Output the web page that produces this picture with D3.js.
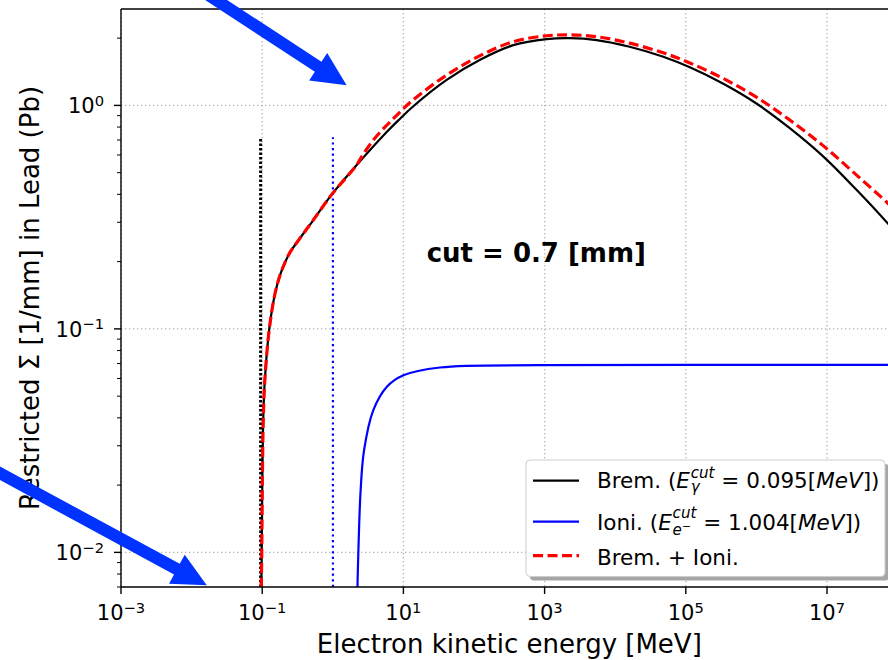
<!DOCTYPE html>
<html><head><meta charset="utf-8">
<script src="https://cdn.jsdelivr.net/npm/d3@7"></script>
<style>
body{margin:0;background:#fff}
svg{display:block}
text{font-family:"DejaVu Sans",sans-serif;fill:#000}
</style>
</head><body>
<svg id="chart" width="888" height="660"></svg>
<script>
// ---------- data ----------
const bremE = [0.0965, 0.0985, 0.1005, 0.104, 0.109, 0.126, 0.152, 0.18, 0.21, 0.25, 0.308, 0.53, 1.0, 2.18, 5.8, 8.9, 13.2, 41, 122, 361, 1070, 2290, 5470, 1.6e4, 4.8e4, 1.14e5, 3.4e5, 1.0e6, 3.0e6, 8.9e6, 2.6e7, 7.3e7, 1e8];
const bremV = [0.006, 0.01, 0.021, 0.042, 0.059, 0.1, 0.144, 0.175, 0.198, 0.221, 0.243, 0.307, 0.405, 0.541, 0.76, 0.87, 0.979, 1.30, 1.60, 1.86, 1.98, 2.0, 1.96, 1.83, 1.65, 1.48, 1.25, 1.02, 0.789, 0.59, 0.42, 0.296, 0.264];

const ioniE = [2.21, 2.30, 2.48, 2.77, 3.75, 5.8, 10, 33, 855, 1e5, 1e8];
const ioniV = [0.006, 0.01, 0.019, 0.0286, 0.0433, 0.055, 0.062, 0.0672, 0.0688, 0.069, 0.069];

const totE = [0.0965, 0.0985, 0.1005, 0.104, 0.109, 0.126, 0.152, 0.18, 0.21, 0.25, 0.308, 0.53, 1.0, 2.18, 2.48, 3.75, 5.8, 8.9, 13.2, 41, 122, 361, 1070, 2290, 5470, 1.6e4, 4.8e4, 1.14e5, 3.4e5, 1.0e6, 3.0e6, 8.9e6, 2.6e7, 7.3e7, 1e8];
const totV = [0.006, 0.01, 0.021, 0.042, 0.059, 0.1, 0.144, 0.175, 0.198, 0.221, 0.243, 0.307, 0.405, 0.541, 0.58, 0.70, 0.815, 0.932, 1.048, 1.367, 1.669, 1.929, 2.049, 2.069, 2.029, 1.899, 1.719, 1.549, 1.319, 1.089, 0.858, 0.659, 0.489, 0.365, 0.333];

const cutEnergies = [0.095, 1.004];
const cutColors = ["#000000", "#0000ff"];
const cutLineTop = 0.72;

const xDomain = [1e-3, 1e8];
const yDomain = [0.007, 2.7];
const xTicks = [1e-3, 1e-1, 1e1, 1e3, 1e5, 1e7];
const xTickExp = ["\u22123", "\u22121", "1", "3", "5", "7"];
const yTicks = [1e-2, 1e-1, 1e0];
const yTickExp = ["\u22122", "\u22121", "0"];
const yMinorTicks = [0.007,0.008,0.009,0.02,0.03,0.04,0.05,0.06,0.07,0.08,0.09,0.2,0.3,0.4,0.5,0.6,0.7,0.8,0.9,2];

const xLabel = "Electron kinetic energy [MeV]";
const yLabel = "Restricted \u03a3 [1/mm] in Lead (Pb)";
const noteText = "cut = 0.7 [mm]";
const notePos = [20, 0.2];

// annotation arrows (data coordinates: tail -> tip)
const arrowTails = [[0.00303, 4.47], [2.73e-6, 0.0316]];
const arrowTips = [[1.57, 1.23], [0.0164, 0.00712]];

// ---------- layout ----------
const svg = d3.select("#chart");
const L = 121, R = 897.6, T = 9, B = 587;
const x = d3.scaleLog().domain(xDomain).range([L, R]);
const y = d3.scaleLog().domain(yDomain).range([B, T]);
const FS = 21, LABFS = 26;

svg.append("defs").append("clipPath").attr("id", "clip")
  .append("rect").attr("x", L).attr("y", T).attr("width", R - L).attr("height", B - T);

// grid
const grid = svg.append("g");
grid.selectAll("line.gx").data(xTicks).enter().append("line")
  .attr("x1", d => x(d)).attr("x2", d => x(d)).attr("y1", T).attr("y2", B)
  .attr("stroke", "#b0b0b0").attr("stroke-width", 1.3).attr("stroke-dasharray", "1.3,2.7");
grid.selectAll("line.gy").data(yTicks).enter().append("line")
  .attr("y1", d => y(d)).attr("y2", d => y(d)).attr("x1", L).attr("x2", R)
  .attr("stroke", "#b0b0b0").attr("stroke-width", 1.3).attr("stroke-dasharray", "1.3,2.7");

const plot = svg.append("g").attr("clip-path", "url(#clip)");
const line = d3.line().x(d => x(d[0])).y(d => y(d[1])).curve(d3.curveCatmullRom.alpha(0.5));
const zip = (a, b) => a.map((v, i) => [v, b[i]]);

// cut lines
cutEnergies.forEach((e, i) => {
  plot.append("line").attr("x1", x(e)).attr("x2", x(e)).attr("y1", y(yDomain[0])).attr("y2", y(cutLineTop))
    .attr("stroke", cutColors[i]).attr("stroke-width", i === 0 ? 3 : 2.2)
    .attr("stroke-dasharray", i === 0 ? "2.5,2" : "2.2,3.4");
});

plot.append("path").attr("d", line(zip(bremE, bremV))).attr("fill", "none")
  .attr("stroke", "#000").attr("stroke-width", 2.2);
plot.append("path").attr("d", line(zip(ioniE, ioniV))).attr("fill", "none")
  .attr("stroke", "#0000ff").attr("stroke-width", 2.2);
plot.append("path").attr("d", line(zip(totE, totV))).attr("fill", "none")
  .attr("stroke", "#ff0000").attr("stroke-width", 3.2).attr("stroke-dasharray", "10,4.5");

// spines
[[L, T, L, B], [L, T, R, T], [L, B, R, B], [R, T, R, B]].forEach(s => {
  svg.append("line").attr("x1", s[0]).attr("y1", s[1]).attr("x2", s[2]).attr("y2", s[3])
    .attr("stroke", "#000").attr("stroke-width", 1.4);
});

// x ticks
const xt = svg.append("g");
xTicks.forEach((t, i) => {
  xt.append("line").attr("x1", x(t)).attr("x2", x(t)).attr("y1", B).attr("y2", B + 7).attr("stroke", "#000").attr("stroke-width", 1.4);
  const tx = xt.append("text").attr("x", x(t)).attr("y", 620).attr("text-anchor", "middle").attr("font-size", FS);
  tx.append("tspan").text("10");
  tx.append("tspan").attr("font-size", FS * 0.7).attr("dy", -7.5).text(xTickExp[i]);
});
// y ticks
const yt = svg.append("g");
yTicks.forEach((t, i) => {
  yt.append("line").attr("x1", L - 7).attr("x2", L).attr("y1", y(t)).attr("y2", y(t)).attr("stroke", "#000").attr("stroke-width", 1.4);
  const ty = yt.append("text").attr("x", 104).attr("y", y(t) + 8).attr("text-anchor", "end").attr("font-size", FS);
  ty.append("tspan").text("10");
  ty.append("tspan").attr("font-size", FS * 0.7).attr("dy", -7.5).text(yTickExp[i]);
});
yMinorTicks.forEach(t => {
  yt.append("line").attr("x1", L - 4).attr("x2", L).attr("y1", y(t)).attr("y2", y(t)).attr("stroke", "#000").attr("stroke-width", 1);
});

// axis labels
svg.append("text").attr("x", (L + R) / 2).attr("y", 653).attr("text-anchor", "middle").attr("font-size", LABFS).text(xLabel);
svg.append("text").attr("transform", `translate(39,${(T + B) / 2}) rotate(-90)`).attr("text-anchor", "middle").attr("font-size", LABFS).text(yLabel);

// note
svg.append("text").attr("x", x(notePos[0]) + 2).attr("y", y(notePos[1])).attr("font-size", 26).attr("font-weight", "bold").text(noteText);

// legend
const lg = svg.append("g");
const lgX = 526, lgY = 460, lgW = 359, lgH = 116.5;
lg.append("rect").attr("x", lgX + 4).attr("y", lgY + 4).attr("width", lgW).attr("height", lgH).attr("rx", 4).attr("fill", "#a6a6a6");
lg.append("rect").attr("x", lgX).attr("y", lgY).attr("width", lgW).attr("height", lgH).attr("rx", 4).attr("fill", "#fff").attr("stroke", "#cccccc").attr("stroke-width", 1);

const LFS = 21.5;
function drawRuns(g, x0, yb, fs, runs) {
  let cx = x0;
  for (const r of runs) {
    if (r.stack) {
      let mw = 0;
      for (const sub of r.stack) mw = Math.max(mw, drawRuns(g, cx, yb, fs, sub) - cx);
      cx += mw;
    } else {
      const t = g.append("text").attr("x", cx).attr("y", yb + (r.dy || 0) * fs)
        .attr("font-size", fs * (r.s || 1)).attr("font-style", r.it ? "italic" : "normal").text(r.t);
      cx += t.node().getComputedTextLength() + (r.pad || 0) * fs;
    }
  }
  return cx;
}
const legendRows = [
  {color: "#000", dash: null, ly: 480.7, by: 488, runs: [
    {t: "Brem.\u00a0("}, {t: "E", it: 1, pad: 0.04},
    {stack: [[{t: "cut", it: 1, s: 0.7, dy: -0.46}], [{t: "\u03b3", it: 1, s: 0.7, dy: 0.2}]]},
    {t: "\u00a0=\u00a00.095["}, {t: "MeV", it: 1}, {t: "])"}]},
  {color: "#0000ff", dash: null, ly: 521.7, by: 530, runs: [
    {t: "Ioni.\u00a0("}, {t: "E", it: 1, pad: 0.04},
    {stack: [[{t: "cut", it: 1, s: 0.7, dy: -0.56}], [{t: "e", it: 1, s: 0.7, dy: 0.22}, {t: "\u2212", s: 0.5, dy: 0.02}]]},
    {t: "\u00a0=\u00a01.004["}, {t: "MeV", it: 1}, {t: "])"}]},
  {color: "#ff0000", dash: "10,4.5", ly: 555.7, by: 564.5, runs: [{t: "Brem.\u00a0+\u00a0Ioni."}]}
];
legendRows.forEach(row => {
  lg.append("line").attr("x1", 533).attr("x2", 579).attr("y1", row.ly).attr("y2", row.ly)
    .attr("stroke", row.color).attr("stroke-width", row.dash ? 3.2 : 2.2).attr("stroke-dasharray", row.dash);
  drawRuns(lg, 597, row.by, LFS, row.runs);
});

// arrows
const ag = svg.append("g");
arrowTails.forEach((tail, i) => {
  const p0 = [x(tail[0]), y(tail[1])], p1 = [x(arrowTips[i][0]), y(arrowTips[i][1])];
  const dx = p1[0] - p0[0], dy = p1[1] - p0[1], len = Math.hypot(dx, dy);
  const u = [dx / len, dy / len], n = [-u[1], u[0]];
  const HL = 34, HW = 16.5, SW = 6;
  const b = [p1[0] - u[0] * HL, p1[1] - u[1] * HL];
  const pts = [
    [p0[0] + n[0] * SW, p0[1] + n[1] * SW],
    [b[0] + n[0] * SW, b[1] + n[1] * SW],
    [b[0] + n[0] * HW, b[1] + n[1] * HW],
    p1,
    [b[0] - n[0] * HW, b[1] - n[1] * HW],
    [b[0] - n[0] * SW, b[1] - n[1] * SW],
    [p0[0] - n[0] * SW, p0[1] - n[1] * SW]
  ];
  ag.append("polygon").attr("points", pts.map(p => p.join(",")).join(" ")).attr("fill", "#0033ff");
});
</script>
</body></html>
